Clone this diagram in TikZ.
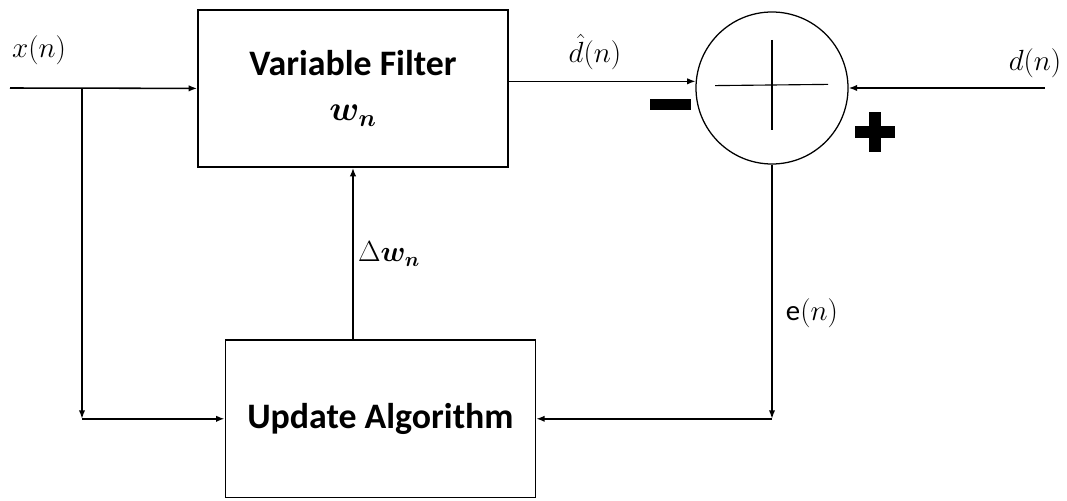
\documentclass[tikz,border=0pt]{standalone}
\usepackage{amsmath}
\usepackage{bm}
\usepackage{fontspec}
\setmainfont{Carlito}
\usetikzlibrary{arrows.meta,positioning,calc}

\begin{document}
\begin{tikzpicture}[
    font=\fontsize{20.5}{24}\selectfont,
    >={Latex[length=6pt,width=4.5pt]},
    block/.style={draw, line width=1.2pt, align=center,
                  minimum width=7.75cm, minimum height=3.93cm,
                  font=\fontsize{25.5}{30}\selectfont\bfseries},
    sumnode/.style={draw, circle, line width=0.9pt, inner sep=0pt,
                    minimum size=3.8cm},
    arr/.style={->, line width=1.1pt},
    lbl/.style={inner sep=1pt},
    signbar/.style={fill=black, inner sep=0pt},
]
\useasboundingbox (0,0) rectangle (26.675,12.5);

%% ── Blocks ──────────────────────────────────────────────────────────────────
\node[block]   (filter) at ( 8.825, 10.29) {Variable Filter\\[2pt]$\bm{w_n}$};
\node[block]   (update) at ( 9.51,   2.03) {Update Algorithm};
\node[sumnode] (sum)    at (19.3,   10.3)  {};

%% ── Signs of the summing junction ───────────────────────────────────────────
\node[signbar, minimum width=1.02cm, minimum height=0.28cm] (minus) at (16.76, 9.89) {};
\node[signbar, minimum width=1.02cm, minimum height=0.32cm] (plusH) at (21.875, 9.2) {};
\node[signbar, minimum width=0.32cm, minimum height=1.0cm]  (plusV) at (21.875, 9.2) {};

%% cross inside the circle
\draw[line width=0.8pt] ($(sum.center)+(-1.42,0.06)$) -- ($(sum.center)+(1.4,0.09)$);
\draw[line width=1.6pt] ($(sum.center)+(0,1.2)$) -- ($(sum.center)+(0,-1.05)$);

%% ── Free ends and corners ───────────────────────────────────────────────────
\coordinate (xin)    at ( 0.25, 10.3);
\coordinate (branch) at ( 2.05, 10.3);
\coordinate (din)    at (26.12, 10.3);
\coordinate (xdown)  at (branch |- update.west);
\coordinate (edown)  at (sum.south |- update.east);

%% ── Signal paths ────────────────────────────────────────────────────────────
\draw[arr] (xin) -- (filter.west);
\draw[arr] (branch) -- (xdown);
\draw[arr] (xdown) -- (update.west);
\draw[arr] (filter.east |- sum.175.5) -- (sum.175.5);
\draw[arr] (din) -- (sum.east);
\draw[arr] (sum.south) -- (edown);
\draw[arr] (edown) -- (update.east);
\draw[arr] (filter.south |- update.north) -- (filter.south);

%% ── Labels ──────────────────────────────────────────────────────────────────
\node[lbl] (lx)  at ( 0.975, 11.25) {$x(n)$};
\node[lbl] (ldh) at (14.875, 11.2)  {$\hat{d}(n)$};
\node[lbl] (ld)  at (25.875, 10.93) {$d(n)$};
\node[lbl] (ldw) at ( 9.725,  6.15) {$\Delta\bm{w_n}$};
\node[lbl] (le)  at (20.3,    4.68) {e$(n)$};

\end{tikzpicture}
\end{document}
